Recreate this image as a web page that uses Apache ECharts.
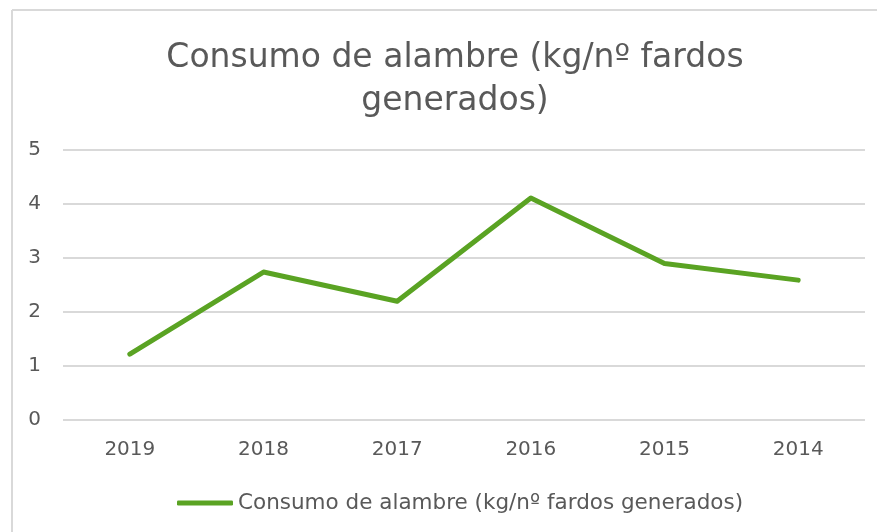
<!DOCTYPE html>
<html>
<head>
<meta charset="utf-8">
<script src="https://cdn.jsdelivr.net/npm/echarts@6/dist/echarts.min.js"></script>
<style>
  html, body { margin: 0; padding: 0; background: #fff; }
  #chart { width: 877px; height: 532px; }
</style>
</head>
<body>
<div id="chart"></div>
<script>
// datos
var years = ['2019', '2018', '2017', '2016', '2015', '2014'];
var consumo = [1.22, 2.74, 2.2, 4.11, 2.9, 2.59];
var yTicks = { min: 0, max: 5, interval: 1 };
var serieNombre = 'Consumo de alambre (kg/nº fardos generados)';

var fuente = '"DejaVu Sans", sans-serif';
var gris = '#595959';
var verde = '#5AA323';

var chart = echarts.init(document.getElementById('chart'));
var option = {
  animation: false,
  textStyle: { fontFamily: fuente },
  title: {
    text: 'Consumo de alambre (kg/nº fardos\ngenerados)',
    left: 450,
    textAlign: 'center',
    top: 32,
    textStyle: {
      fontFamily: fuente,
      fontSize: 33,
      fontWeight: 'normal',
      color: gris,
      lineHeight: 43
    }
  },
  // marco del grafico
  graphic: [
    { type: 'line', shape: { x1: 12, y1: 10, x2: 877, y2: 10 }, style: { stroke: '#d9d9d9', lineWidth: 2 } },
    { type: 'line', shape: { x1: 12, y1: 10, x2: 12, y2: 532 }, style: { stroke: '#d9d9d9', lineWidth: 2 } }
  ],
  legend: {
    bottom: 13,
    left: 172,
    icon: 'roundRect',
    itemWidth: 56,
    itemHeight: 5,
    textStyle: { fontFamily: fuente, fontSize: 21.5, color: gris },
    data: [serieNombre]
  },
  grid: { left: 63, right: 12, top: 150, bottom: 112 },
  xAxis: {
    type: 'category',
    data: years,
    boundaryGap: true,
    axisLine: { show: false },
    axisTick: { show: false },
    axisLabel: { fontFamily: fuente, fontSize: 20, color: gris, margin: 20 }
  },
  yAxis: {
    type: 'value',
    min: yTicks.min,
    max: yTicks.max,
    interval: yTicks.interval,
    axisLine: { show: false },
    axisTick: { show: false },
    axisLabel: { fontFamily: fuente, fontSize: 20, color: gris, margin: 22 },
    splitLine: { lineStyle: { color: '#d9d9d9', width: 2 } }
  },
  series: [{
    name: serieNombre,
    type: 'line',
    data: consumo,
    showSymbol: false,
    symbol: 'none',
    itemStyle: { color: verde },
    lineStyle: { color: verde, width: 5, cap: 'round', join: 'round' }
  }]
};
chart.setOption(option);
</script>
</body>
</html>
